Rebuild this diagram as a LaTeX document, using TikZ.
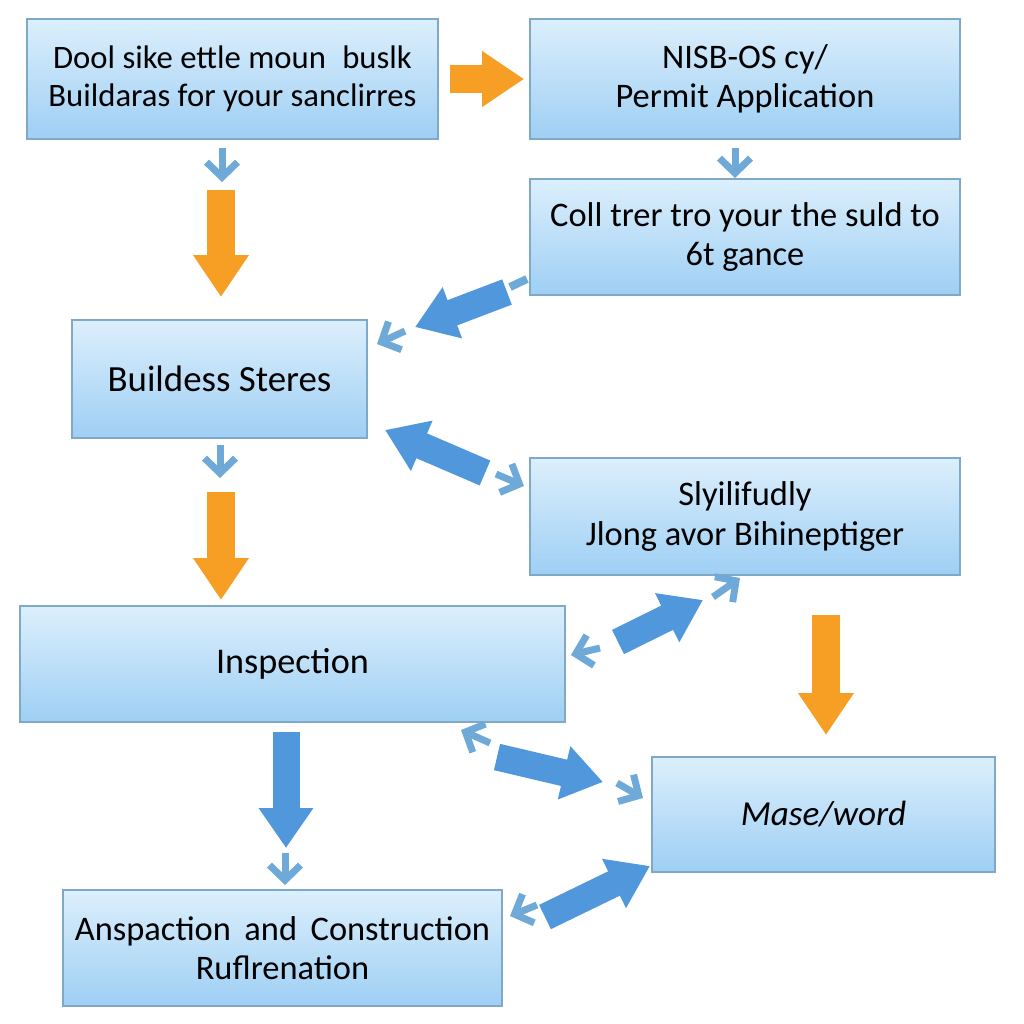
\documentclass[tikz,border=0pt]{standalone}
\usepackage{fontspec}
\setmainfont{Carlito}
\usetikzlibrary{arrows.meta}

\definecolor{boxtop}{HTML}{DCEFFC}
\definecolor{boxbot}{HTML}{9ECFF4}
\definecolor{boxline}{HTML}{7FA9C6}
\definecolor{fatblue}{HTML}{5098DB}
\definecolor{thinblue}{HTML}{6EA9D8}
\definecolor{arrorange}{HTML}{F79E25}

\tikzset{
    procbox/.style={draw=boxline, line width=0.35mm, top color=boxtop, bottom color=boxbot,
        align=center, inner sep=0pt, font=\fontsize{19.6}{22.5}\selectfont},
    orangearrow/.style={draw=arrorange, line width=5.6mm, -{Triangle[length=8.4mm,width=10.6mm]}},
    fatarrow/.style={draw=fatblue, line width=5.4mm, -{Triangle[length=8mm,width=10.4mm]}},
    thinarrow/.style={draw=thinblue, line width=1.4mm, -{Straight Barb[length=3mm,width=6.2mm]}}
}

\begin{document}
\begin{tikzpicture}[x=0.2mm, y=-0.2mm]
    \useasboundingbox (0,0) rectangle (1024,1024);

    % === Boxes ===
    \node[procbox, minimum width=82.2mm, minimum height=24mm, font=\fontsize{18.6}{21.5}\selectfont] (b1) at (232.5,79)
        {Dool sike ettle moun\enspace buslk\\Buildaras for your sanclirres};
    \node[procbox, minimum width=86mm, minimum height=24mm] (b2) at (745,79)
        {NISB-OS cy/\\Permit Application};
    \node[procbox, minimum width=86mm, minimum height=23.2mm] (b3) at (745,237)
        {Coll trer tro your the suld to\\6t gance};
    \node[procbox, minimum width=59mm, minimum height=23.6mm, font=\fontsize{21}{24}\selectfont] (b4) at (219.5,379)
        {Buildess Steres};
    \node[procbox, minimum width=86mm, minimum height=23.4mm] (b5) at (745,516.5)
        {Slyilifudly\\Jlong avor Bihineptiger};
    \node[procbox, minimum width=109mm, minimum height=23.2mm, font=\fontsize{20.6}{24}\selectfont] (b6) at (292.5,664)
        {Inspection};
    \node[procbox, minimum width=68.6mm, minimum height=23mm, font=\fontsize{20}{24}\selectfont\itshape] (b7) at (823.5,814.5)
        {Mase/word};
    \node[procbox, minimum width=87.8mm, minimum height=23.2mm] (b8) at (282.5,948)
        {Anspaction\, and\, Construction\\Ruflrenation};

    % === Arrow ends ===
    \coordinate (a1s) at (222,148);  \coordinate (a1e) at (222,182);
    \coordinate (a2s) at (221,190);  \coordinate (a2e) at (221,297);
    \coordinate (a3s) at (735,148);  \coordinate (a3e) at (735,178);
    \coordinate (a4s) at (507,292);  \coordinate (a4e) at (415,327);
    \coordinate (a5s) at (405,331);  \coordinate (a5e) at (377,344);
    \coordinate (a6s) at (485,473);  \coordinate (a6e) at (385,430);
    \coordinate (a7s) at (496,474);  \coordinate (a7e) at (524,486);
    \coordinate (a8s) at (220,445);  \coordinate (a8e) at (220,478);
    \coordinate (a9s) at (221,492);  \coordinate (a9e) at (221,600);
    \coordinate (a10s) at (713,597); \coordinate (a10e) at (740,578);
    \coordinate (a11s) at (618,642); \coordinate (a11e) at (703,600);
    \coordinate (a12s) at (600,648); \coordinate (a12e) at (571,655);
    \coordinate (a13s) at (826,615); \coordinate (a13e) at (826,735);
    \coordinate (a14s) at (490,743); \coordinate (a14e) at (461,730);
    \coordinate (a15s) at (497,757); \coordinate (a15e) at (603,782);
    \coordinate (a16s) at (617,783); \coordinate (a16e) at (643,798);
    \coordinate (a17s) at (286,732); \coordinate (a17e) at (286,848);
    \coordinate (a18s) at (285,853); \coordinate (a18e) at (285,885);
    \coordinate (a19s) at (537,905); \coordinate (a19e) at (510,916);
    \coordinate (a20s) at (545,917); \coordinate (a20e) at (650,866);

    % === Orange arrows ===
    \draw[orangearrow, shorten <=2.2mm, shorten >=1mm] (b1.east) -- (b2.west);
    \draw[orangearrow] (a2s) -- (a2e);
    \draw[orangearrow] (a9s) -- (a9e);
    \draw[orangearrow] (a13s) -- (a13e);

    % === Fat blue arrows ===
    \draw[fatarrow] (a4s) -- (a4e);
    \draw[thinblue, line width=1.6mm] (510,287) -- (527,279);
    \draw[fatarrow] (a6s) -- (a6e);
    \draw[fatarrow] (a11s) -- (a11e);
    \draw[fatarrow] (a15s) -- (a15e);
    \draw[fatarrow] (a17s) -- (a17e);
    \draw[fatarrow] (a20s) -- (a20e);

    % === Thin chevron arrows ===
    \draw[thinarrow] (a1s) -- (a1e);
    \draw[thinarrow] (a3s) -- (a3e);
    \draw[thinarrow] (a5s) -- (a5e);
    \draw[thinarrow] (a7s) -- (a7e);
    \draw[thinarrow] (a8s) -- (a8e);
    \draw[thinarrow] (a10s) -- (a10e);
    \draw[thinarrow] (a12s) -- (a12e);
    \draw[thinarrow] (a14s) -- (a14e);
    \draw[thinarrow] (a16s) -- (a16e);
    \draw[thinarrow] (a18s) -- (a18e);
    \draw[thinarrow] (a19s) -- (a19e);

\end{tikzpicture}
\end{document}
